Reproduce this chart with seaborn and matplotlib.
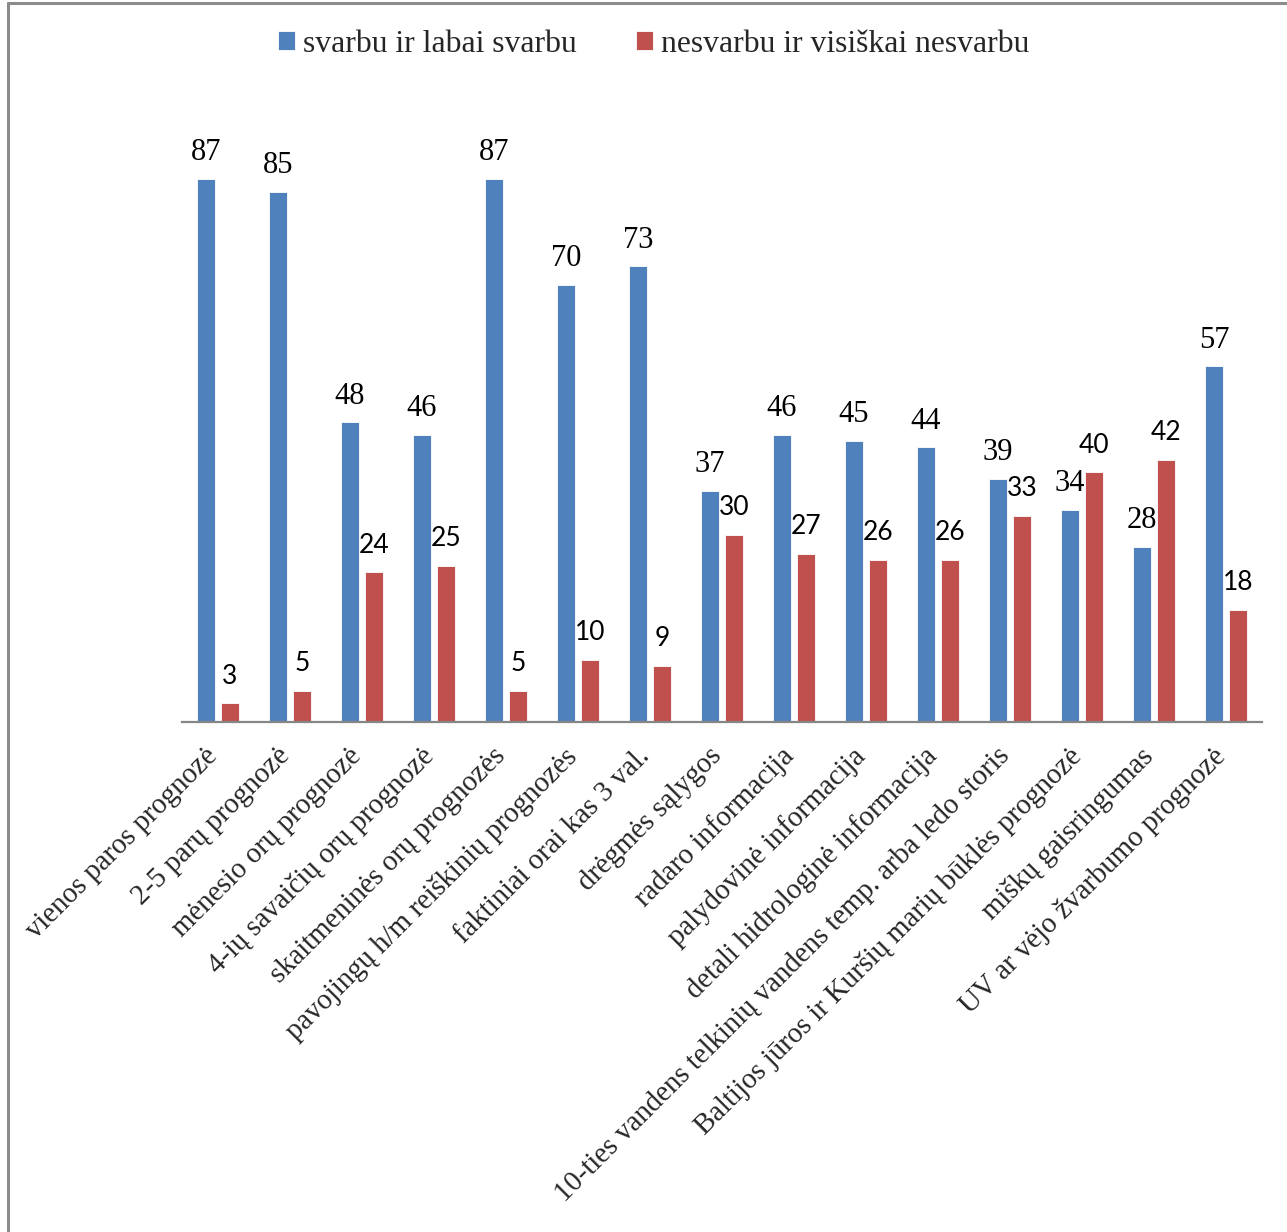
import matplotlib
matplotlib.use("Agg")
import matplotlib.pyplot as plt
import matplotlib.transforms as mtransforms
from matplotlib.lines import Line2D
import pandas as pd
import seaborn as sns

# Survey answers: share of respondents (%) per information product
categories = [
    "vienos paros prognozė",
    "2-5 parų prognozė",
    "mėnesio orų prognozė",
    "4-ių savaičių orų prognozė",
    "skaitmeninės orų prognozės",
    "pavojingų h/m reiškinių prognozės",
    "faktiniai orai kas 3 val.",
    "drėgmės sąlygos",
    "radaro informacija",
    "palydovinė informacija",
    "detali hidrologinė informacija",
    "10-ties vandens telkinių vandens temp. arba ledo storis",
    "Baltijos jūros ir Kuršių marių būklės prognozė",
    "miškų gaisringumas",
    "UV ar vėjo žvarbumo prognozė",
]
important = [87, 85, 48, 46, 87, 70, 73, 37, 46, 45, 44, 39, 34, 28, 57]
not_important = [3, 5, 24, 25, 5, 10, 9, 30, 27, 26, 26, 33, 40, 42, 18]
series_names = ["svarbu ir labai svarbu", "nesvarbu ir visiškai nesvarbu"]
series_colors = ["#4F81BD", "#C0504D"]

df = pd.DataFrame({
    "kategorija": categories * 2,
    "atsakymas": [series_names[0]] * len(categories) + [series_names[1]] * len(categories),
    "procentai": important + not_important,
})

sns.set_theme(style="white")
SERIF = "Liberation Serif"
SANS = "Lato"
plt.rcParams["font.family"] = [SERIF, "DejaVu Serif"]

W, H = 1287, 1232
fig = plt.figure(figsize=(W / 100, H / 100), dpi=100)
ax = fig.add_axes([182 / W, (H - 722) / H, 1080 / W, 624 / H])

sns.barplot(
    data=df, x="kategorija", y="procentai", hue="atsakymas",
    hue_order=series_names, order=categories,
    palette=series_colors, width=0.667, gap=0.21,
    saturation=1, edgecolor="white", linewidth=0.6, ax=ax,
)

ax.set_xlim(-0.5, len(categories) - 0.5)
ax.set_ylim(0, 100)
ax.set_xlabel("")
ax.set_ylabel("")
ax.set_yticks([])
for side in ("left", "right", "top"):
    ax.spines[side].set_visible(False)
ax.spines["bottom"].set_color("#868686")
ax.spines["bottom"].set_linewidth(1.6)

# Value labels above the bars
ax.bar_label(ax.containers[0], fmt="%d", padding=8.5, fontsize=22,
             fontfamily=SERIF, color="black")
ax.bar_label(ax.containers[1], fmt="%d", padding=10.5, fontsize=19,
             fontfamily=SANS, color="black")

# Diagonal category labels ending just right of each tick
ax.set_xticks(range(len(categories)))
ax.set_xticklabels(categories, rotation=45, ha="right", va="top",
                   fontsize=20.7, fontfamily=SERIF)
ax.tick_params(axis="x", length=0, pad=15)
shift = mtransforms.ScaledTranslation(5 / 100, 0, fig.dpi_scale_trans)
for lbl in ax.get_xticklabels():
    lbl.set_transform(lbl.get_transform() + shift)

# Legend across the top
handles, labels = ax.get_legend_handles_labels()
ax.get_legend().remove()
fig.legend(
    handles, labels, loc="center left",
    bbox_to_anchor=(278 / W, 1 - 44 / H), ncol=2, frameon=False,
    prop={"family": SERIF, "size": 22.8},
    handlelength=0.55, handleheight=0.55,
    handletextpad=0.25, columnspacing=1.85, borderaxespad=0, borderpad=0,
)

# Chart-area frame (top and left edges)
frame_kw = dict(color="#8C8C8C", linewidth=2.2, transform=fig.transFigure)
fig.add_artist(Line2D([7.5 / W, 1], [1 - 2.5 / H, 1 - 2.5 / H], **frame_kw))
fig.add_artist(Line2D([7.5 / W, 7.5 / W], [0, 1 - 2.5 / H], **frame_kw))

fig.savefig("out.png", dpi=100, facecolor="white")
